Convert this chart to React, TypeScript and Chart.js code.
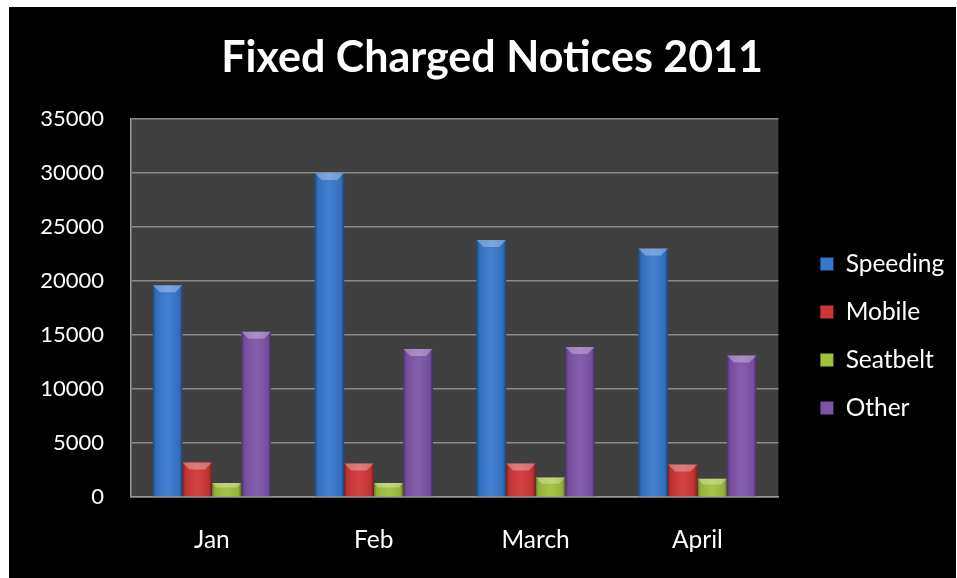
import React, { useEffect, useRef } from "react";
import { Chart, registerables } from "chart.js";

Chart.register(...registerables);

const months = ["Jan", "Feb", "March", "April"];
const speeding = [19600, 30000, 23800, 23000];
const mobile = [3200, 3100, 3100, 3000];
const seatbelt = [1300, 1300, 1800, 1700];
const other = [15300, 13700, 13900, 13100];
const seriesNames = ["Speeding", "Mobile", "Seatbelt", "Other"];
const seriesColors = ["#3577cc", "#d03636", "#a0c13a", "#7d53a8"];
const yMin = 0;
const yMax = 35000;
const yStep = 5000;
const chartTitle = "Fixed Charged Notices 2011";

const FONT = "Lato, 'Open Sans', sans-serif";

const backgroundPlugin = {
  id: "bgPlugin",
  beforeDraw(chart: any) {
    const { ctx, chartArea, width, height } = chart;
    ctx.save();
    ctx.fillStyle = "#000000";
    ctx.fillRect(0, 0, width, height);
    ctx.fillStyle = "#404040";
    ctx.fillRect(chartArea.left, chartArea.top, chartArea.right - chartArea.left, chartArea.bottom - chartArea.top);
    ctx.restore();
  },
};

const bevelPlugin = {
  id: "bevelPlugin",
  afterDatasetsDraw(chart: any) {
    const { ctx } = chart;
    ctx.save();
    chart.data.datasets.forEach((_: any, di: number) => {
      const meta = chart.getDatasetMeta(di);
      meta.data.forEach((bar: any) => {
        const { x, y, base, width } = bar.getProps(["x", "y", "base", "width"], true);
        const left = x - width / 2;
        const right = x + width / 2;
        const top = Math.min(y, base);
        const h = Math.abs(base - y);
        const g = ctx.createLinearGradient(left, 0, right, 0);
        g.addColorStop(0, "rgba(0,0,0,0.4)");
        g.addColorStop(0.1, "rgba(0,0,0,0.08)");
        g.addColorStop(0.5, "rgba(255,255,255,0.06)");
        g.addColorStop(0.9, "rgba(0,0,0,0.08)");
        g.addColorStop(1, "rgba(0,0,0,0.45)");
        ctx.fillStyle = g;
        ctx.fillRect(left, top, width, h);
        // top bevel highlight
        const bev = Math.min(7, h / 3);
        ctx.fillStyle = "rgba(255,255,255,0.3)";
        ctx.beginPath();
        ctx.moveTo(left, top);
        ctx.lineTo(right, top);
        ctx.lineTo(right - bev, top + bev);
        ctx.lineTo(left + bev, top + bev);
        ctx.closePath();
        ctx.fill();
      });
    });
    ctx.restore();
  },
};

export default function App() {
  const canvasRef = useRef<HTMLCanvasElement | null>(null);

  useEffect(() => {
    if (!canvasRef.current) return;
    const seriesValues = [speeding, mobile, seatbelt, other];
    const chart = new Chart(canvasRef.current, {
      type: "bar",
      data: {
        labels: months,
        datasets: seriesNames.map((name, i) => ({
          label: name,
          data: seriesValues[i],
          backgroundColor: seriesColors[i],
          borderWidth: 0,
          categoryPercentage: 0.73,
          barPercentage: 1.0,
        })),
      },
      options: {
        animation: false,
        responsive: false,
        maintainAspectRatio: false,
        layout: { padding: { left: 26, right: 6.75, top: 0, bottom: 25 } },
        plugins: {
          title: {
            display: true,
            text: chartTitle,
            color: "#ffffff",
            font: { family: FONT, size: 43, weight: "bold" },
            padding: { top: 25.2, bottom: 35.2 },
          },
          legend: {
            display: true,
            position: "right",
            title: {
              display: true,
              text: "",
              font: { family: FONT, size: 10 },
              padding: { top: 50, bottom: 50 },
            },
            labels: {
              color: "#ffffff",
              font: { family: FONT, size: 24.5 },
              boxWidth: 13,
              boxHeight: 13,
              padding: 23.5,
            },
          },
          tooltip: { enabled: false },
        },
        scales: {
          x: {
            grid: { display: false, drawTicks: false },
            border: { display: true, color: "#9a9a9a", width: 1.5 },
            ticks: { color: "#ffffff", font: { family: FONT, size: 24.5 }, padding: 28 },
            afterFit: (s: any) => {
              s.height = 56;
            },
          },
          y: {
            min: yMin,
            max: yMax,
            grid: { color: "#8a8a8a", lineWidth: 1.5, drawTicks: false },
            border: { display: true, color: "#9a9a9a", width: 1.5 },
            ticks: {
              stepSize: yStep,
              color: "#ffffff",
              font: { family: FONT, size: 22 },
              padding: 27,
              callback: (v: any) => String(v),
            },
            afterFit: (s: any) => {
              s.width = 96;
            },
          },
          pad: {
            type: "linear",
            position: "right",
            display: true,
            grid: { display: false, drawTicks: false },
            border: { display: false },
            ticks: { display: false },
            afterFit: (s: any) => {
              s.width = 18.5;
            },
          } as any,
        },
      },
      plugins: [backgroundPlugin, bevelPlugin],
    });
    return () => chart.destroy();
  }, []);

  return (
    <div style={{ position: "absolute", left: 9, top: 7, width: 947, height: 571, background: "#000" }}>
      <canvas ref={canvasRef} width={947} height={571} style={{ display: "block" }} />
    </div>
  );
}
